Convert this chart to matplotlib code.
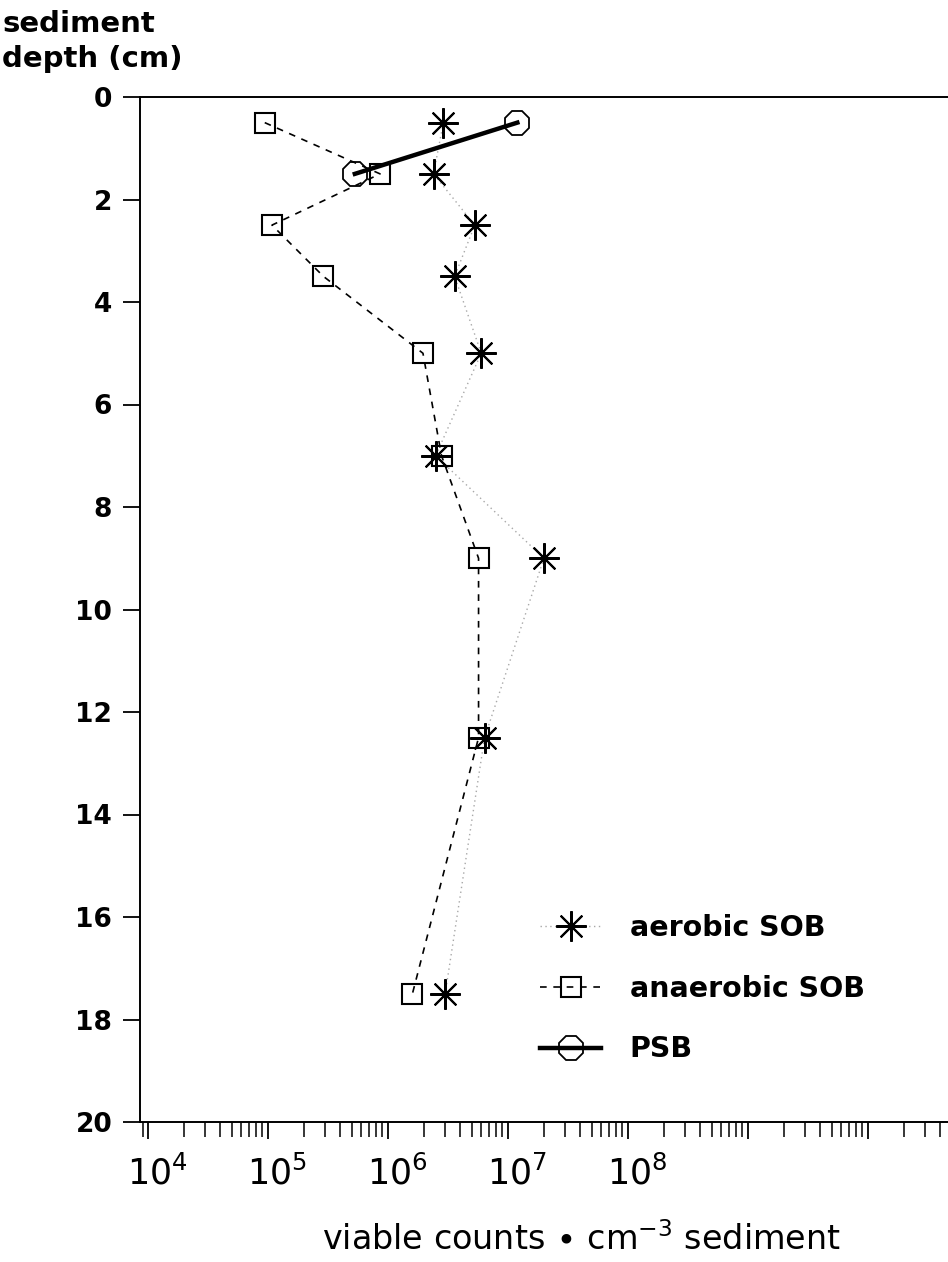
import math
import matplotlib
matplotlib.use("Agg")
import matplotlib.pyplot as plt
import matplotlib.transforms as mtransforms
from matplotlib.ticker import FixedLocator, FuncFormatter, LogLocator, NullFormatter

# ---- data ----
depth = [0.5, 1.5, 2.5, 3.5, 5, 7, 9, 12.5, 17.5]
aerobic_sob = [2.9e6, 2.4e6, 5.3e6, 3.6e6, 6.0e6, 2.5e6, 2.0e7, 6.4e6, 3.0e6]
anaerobic_sob = [9.4e4, 8.6e5, 1.08e5, 2.9e5, 1.96e6, 2.8e6, 5.7e6, 5.7e6, 1.6e6]
psb_depth = [0.5, 1.5]
psb = [1.2e7, 5.3e5]
series_labels = ["aerobic SOB", "anaerobic SOB", "PSB"]
depth_ticks = [0, 2, 4, 6, 8, 10, 12, 14, 16, 18, 20]
labelled_decades = [4, 5, 6, 7, 8]
all_decades = [4, 5, 6, 7, 8, 9, 10]

plt.rcParams["font.family"] = ["DejaVu Sans"]
plt.rcParams["mathtext.fontset"] = "dejavusans"

W, H = 948, 1262
fig = plt.figure(figsize=(W / 100, H / 100), dpi=100)
left, top, bottom = 140, 97, 1122
ax = fig.add_axes([left / W, 1 - bottom / H, 1 - left / W, (bottom - top) / H])

ax.set_xscale("log")
ax.set_xlim(10 ** 3.933, 10 ** 10.67)
ax.set_ylim(20, 0)

# series
(l_aer,) = ax.plot(aerobic_sob, depth, linestyle=(0, (1, 2.5)), color="#a8a8a8", lw=1.0,
                   marker=(8, 2, 0), ms=22, mec="black", mfc="black", mew=1.5,
                   label=series_labels[0], zorder=3)
(l_ana,) = ax.plot(anaerobic_sob, depth, linestyle=(0, (4, 4)), color="black", lw=1.2,
                   marker="s", ms=15, mfc="none", mec="black", mew=1.5,
                   label=series_labels[1], zorder=3)
(l_psb,) = ax.plot(psb, psb_depth, linestyle="-", color="black", lw=3.2,
                   marker="8", ms=19, mfc="none", mec="black", mew=1.3,
                   label=series_labels[2], zorder=4)

# spines
for s in ["left", "bottom", "top"]:
    ax.spines[s].set_linewidth(1.4)
ax.spines["right"].set_visible(False)

# y axis
ax.yaxis.set_major_locator(FixedLocator(depth_ticks))
ax.set_yticklabels([str(t) for t in depth_ticks])
ax.tick_params(axis="y", direction="out", length=12, width=1.3, pad=8,
               labelsize=19)
for lab in ax.get_yticklabels():
    lab.set_fontweight("bold")

# x axis
ax.xaxis.set_major_locator(FixedLocator([10.0 ** d for d in all_decades]))
ax.xaxis.set_minor_locator(LogLocator(base=10, subs=[2, 3, 4, 5, 6, 7, 8, 9], numticks=50))
ax.xaxis.set_minor_formatter(NullFormatter())


def fmt(v, pos):
    e = int(round(math.log10(v)))
    return r"$\mathregular{10^{%d}}$" % e if e in labelled_decades else ""


ax.xaxis.set_major_formatter(FuncFormatter(fmt))
ax.tick_params(axis="x", which="major", direction="out", length=12, width=1.3,
               pad=12, labelsize=25)
ax.tick_params(axis="x", which="minor", direction="out", length=11, width=1.1)
offset = mtransforms.ScaledTranslation(9 / 100, 0, fig.dpi_scale_trans)
for lab in ax.get_xticklabels():
    lab.set_transform(lab.get_transform() + offset)

# axis titles
fig.text(2 / W, 1 - 10 / H, "sediment\ndepth (cm)", ha="left", va="top",
         fontsize=21, fontweight="bold", linespacing=1.3)
fig.text(581 / W, 1 - 1240 / H, r"viable counts $\bullet$ cm$^{-3}$ sediment",
         ha="center", va="center", fontsize=24)

# legend
leg = ax.legend(handles=[l_aer, l_ana, l_psb], loc="upper left",
                bbox_to_anchor=(540 / W, 1 - 914 / H), bbox_transform=fig.transFigure,
                frameon=False, borderpad=0, borderaxespad=0, handlelength=2.15,
                handletextpad=1.0, labelspacing=1.15, numpoints=1,
                prop={"size": 20.5, "weight": "bold"})

fig.savefig("out.png", dpi=100)
